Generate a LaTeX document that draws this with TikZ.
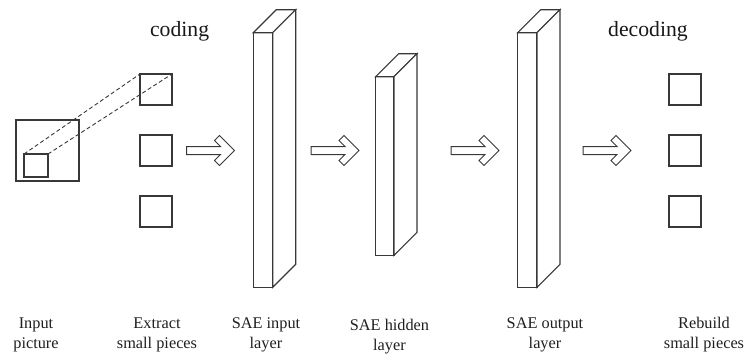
\documentclass[tikz,border=0pt]{standalone}
\usepackage{fontspec}
\setmainfont{Liberation Serif}
\tikzset{
  ln/.style={draw=black!78, line width=1.1pt, line join=miter},
  sq/.style={ln, rectangle, inner sep=0pt, outer sep=0pt},
  face/.style={ln, fill=white},
  toplbl/.style={font=\fontsize{21.7}{24}\selectfont, text=black!90, anchor=base, inner sep=0pt},
  botlbl/.style={font=\fontsize{16.3}{20}\selectfont, text=black!88, anchor=base, align=center, inner sep=0pt},
  pics/blockarrow/.style={code={
    \draw[ln, line width=1pt] (0,-4) -- (34,-4) -- (28,-10) -- (33,-15) -- (48,0)
      -- (33,15) -- (28,10) -- (34,4) -- (0,4) -- cycle;
  }},
}
\newcommand{\slab}[5]{% name, x1, y1, x2, y2 (front face), depth 23
  \node[sq, fill=white, anchor=north west, minimum width=#4-#2, minimum height=#5-#3] (#1) at (#2,#3) {};
  \draw[face] (#1.north west) -- ++(23,-23) -- ++(#4-#2,0) -- (#1.north east) -- cycle;
  \draw[face] (#1.north east) -- ++(23,-23) -- ++(0,#5-#3) -- (#1.south east) -- cycle;
}
\begin{document}
\begin{tikzpicture}[x=1pt,y=-1pt]
\useasboundingbox (0,0) rectangle (744,354);

% input picture
\node[sq, minimum width=63, minimum height=61] (pic) at (47.5,150.5) {};
\node[sq, minimum width=24, minimum height=23] (win) at (36,165.5) {};

% extracted pieces
\node[sq, minimum width=32, minimum height=31] (p1) at (156,89.5) {};
\node[sq, minimum width=32, minimum height=31] (p2) at (156,150.5) {};
\node[sq, minimum width=32, minimum height=31] (p3) at (156,211.5) {};

\draw[ln, line width=0.9pt, dash pattern=on 4pt off 2.6pt] (win.north west) -- (p1.north west);
\draw[ln, line width=0.9pt, dash pattern=on 4pt off 2.6pt] (win.north east) -- (p1.north east);

% rebuilt pieces
\node[sq, minimum width=32, minimum height=31] (r1) at (685,89.5) {};
\node[sq, minimum width=32, minimum height=31] (r2) at (685,150.5) {};
\node[sq, minimum width=32, minimum height=31] (r3) at (685,211.5) {};

% SAE layers
\slab{inl}{253.3}{32.7}{272.7}{287.3}
\slab{hid}{375.7}{76.7}{394}{255.3}
\slab{outl}{517.7}{32.7}{537}{287.3}

% block arrows
\pic at (186.5,150.5) {blockarrow};
\pic at (311,150.5) {blockarrow};
\pic at (451,150.5) {blockarrow};
\pic at (583,150.5) {blockarrow};

% titles
\node[toplbl] (tc) at (179.6,36.7) {coding};
\node[toplbl] (td) at (648,36.7) {decoding};

% bottom labels (base anchor = baseline of the last line)
\node[botlbl] (l1) at (36,348.5) {Input\\picture};
\node[botlbl] (l2) at (157,348.5) {Extract\\small pieces};
\node[botlbl] (l3) at (266,348.5) {SAE input\\layer};
\node[botlbl] (l4) at (389.5,350.5) {SAE hidden\\layer};
\node[botlbl] (l5) at (545,348.5) {SAE output\\layer};
\node[botlbl] (l6) at (704,348.5) {Rebuild\\small pieces};
\end{tikzpicture}
\end{document}
